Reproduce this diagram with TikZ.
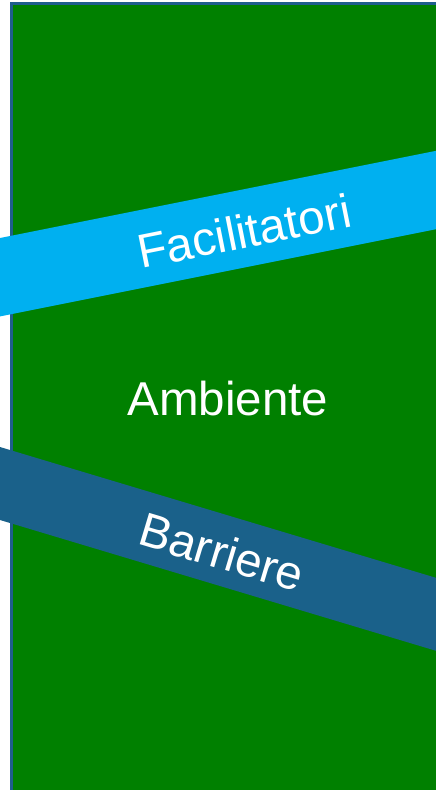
\documentclass[tikz,border=0pt]{standalone}
\usepackage{fontspec}
\setmainfont{Liberation Sans}
\definecolor{envgreen}{HTML}{008000}
\definecolor{framebl}{HTML}{1F5E8C}
\definecolor{facil}{HTML}{00B0F0}
\definecolor{barr}{HTML}{1A618A}
\tikzset{
  lbl/.style={text=white, font=\fontsize{47.5}{54}\selectfont, inner sep=0pt, anchor=center},
}
\begin{document}
\begin{tikzpicture}[x=1pt,y=-1pt]
\useasboundingbox (0,0) rectangle (436,790);
\clip (0,0) rectangle (436,790);
\fill[white] (0,0) rectangle (436,790);
\draw[fill=envgreen, draw=framebl, line width=2.6pt] (11.7,3.2) rectangle (445,800);
\fill[facil] (-2,238.4) -- (440,150.0) -- (440,228.4) -- (-2,316.8) -- cycle;
\fill[barr] (-2,446.4) -- (440,579.0) -- (440,652.0) -- (-2,519.4) -- cycle;
\node[lbl, rotate=11.3] (fac) at (244,231) {Facilitatori};
\node[lbl] (amb) at (228,399) {Ambiente};
\node[lbl, rotate=-16.7] (bar) at (222,552) {Barriere};
\end{tikzpicture}
\end{document}
